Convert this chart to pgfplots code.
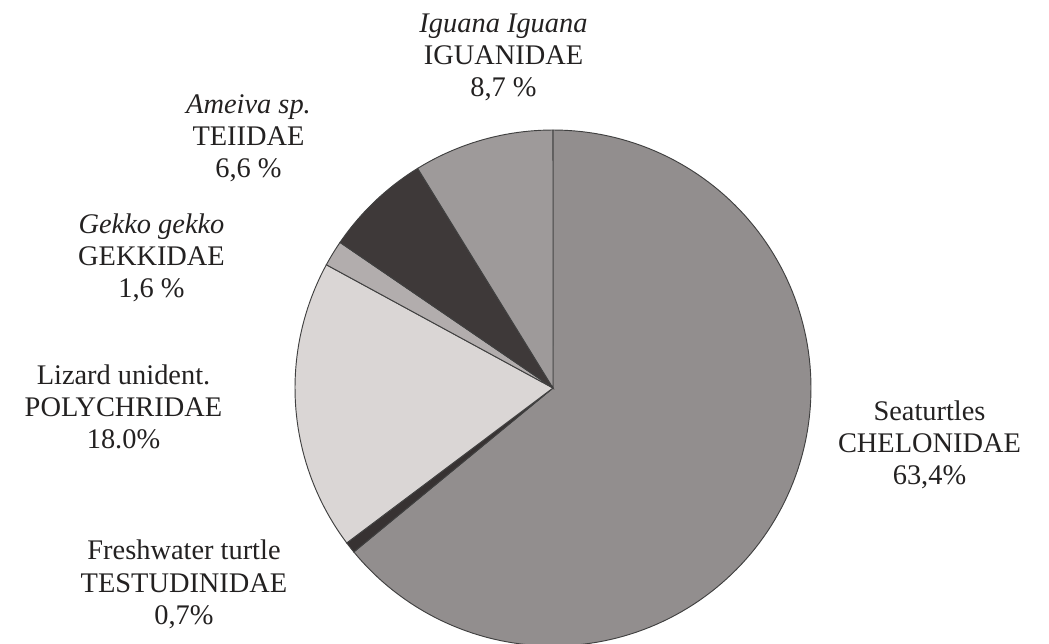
\documentclass[border=0pt]{standalone}
\usepackage{fontspec}
\setmainfont{Liberation Serif}
\usepackage{pgfplots}
\usepackage{pgfplotstable}
\pgfplotsset{compat=1.18}
\definecolor{cSea}{RGB}{146,142,142}
\definecolor{cIgu}{RGB}{158,154,154}
\definecolor{cTei}{RGB}{62,57,57}
\definecolor{cGek}{RGB}{178,173,173}
\definecolor{cPoly}{RGB}{218,214,213}
\definecolor{cFresh}{RGB}{55,50,50}
\definecolor{txt}{RGB}{35,33,33}
\tikzset{lab/.style={anchor=base, inner sep=0pt, text=txt, font=\fontsize{21.3}{25}\selectfont}}
\pgfplotstableread{
name pct
CHELONIDAE 63.4
TESTUDINIDAE 0.7
POLYCHRIDAE 18.0
GEKKIDAE 1.6
TEIIDAE 6.6
IGUANIDAE 8.7
}\piedata
\begin{document}
\begin{tikzpicture}
\pgfplotstablegetelem{0}{pct}\of\piedata \let\pA\pgfplotsretval
\pgfplotstablegetelem{1}{pct}\of\piedata \let\pB\pgfplotsretval
\pgfplotstablegetelem{2}{pct}\of\piedata \let\pC\pgfplotsretval
\pgfplotstablegetelem{3}{pct}\of\piedata \let\pD\pgfplotsretval
\pgfplotstablegetelem{4}{pct}\of\piedata \let\pE\pgfplotsretval
\pgfplotstablegetelem{5}{pct}\of\piedata \let\pF\pgfplotsretval
\pgfmathsetmacro\tot{\pA+\pB+\pC+\pD+\pE+\pF}
\pgfmathsetmacro\kA{90-\pA/\tot*360}
\pgfmathsetmacro\kB{\kA-\pB/\tot*360}
\pgfmathsetmacro\kC{\kB-\pC/\tot*360}
\pgfmathsetmacro\kD{\kC-\pD/\tot*360}
\pgfmathsetmacro\kE{\kD-\pE/\tot*360}
\pgfmathsetmacro\kF{\kE-\pF/\tot*360}
\begin{axis}[
  name=pie,
  scale only axis,
  width=786.75pt, height=482.25pt,
  xmin=-553, xmax=496, ymin=-255, ymax=388,
  hide axis,
  clip=true,
]
\addplot[fill=cSea, draw=black!75, line width=0.7pt, data cs=polar, domain=\kA:90, samples=150] {258} -- (axis cs:0,0) -- cycle;
\addplot[fill=cFresh, draw=black!75, line width=0.7pt, data cs=polar, domain=\kB:\kA, samples=5] {258} -- (axis cs:0,0) -- cycle;
\addplot[fill=cPoly, draw=black!75, line width=0.7pt, data cs=polar, domain=\kC:\kB, samples=50] {258} -- (axis cs:0,0) -- cycle;
\addplot[fill=cGek, draw=black!75, line width=0.7pt, data cs=polar, domain=\kD:\kC, samples=8] {258} -- (axis cs:0,0) -- cycle;
\addplot[fill=cTei, draw=black!75, line width=0.7pt, data cs=polar, domain=\kE:\kD, samples=20] {258} -- (axis cs:0,0) -- cycle;
\addplot[fill=cIgu, draw=black!75, line width=0.7pt, data cs=polar, domain=\kF:\kE, samples=25] {258} -- (axis cs:0,0) -- cycle;

\node[lab] at (axis cs:-49.5,355) {\itshape Iguana Iguana};
\node[lab] at (axis cs:-49.5,323) {IGUANIDAE};
\node[lab] at (axis cs:-49.5,291) {8,7 \%};

\node[lab] at (axis cs:-304.5,274) {\itshape Ameiva sp.};
\node[lab] at (axis cs:-304.5,242) {TEIIDAE};
\node[lab] at (axis cs:-304.5,210) {6,6 \%};

\node[lab] at (axis cs:-401.5,154) {\itshape Gekko gekko};
\node[lab] at (axis cs:-401.5,122) {GEKKIDAE};
\node[lab] at (axis cs:-401.5,90) {1,6 \%};

\node[lab] at (axis cs:-429.5,4) {Lizard unident.};
\node[lab] at (axis cs:-429.5,-28) {POLYCHRIDAE};
\node[lab] at (axis cs:-429.5,-60) {18.0\%};

\node[lab] at (axis cs:-369,-171) {Freshwater turtle};
\node[lab] at (axis cs:-369,-204) {TESTUDINIDAE};
\node[lab] at (axis cs:-369,-236) {0,7\%};

\node[lab] at (axis cs:376.5,-32) {Seaturtles};
\node[lab] at (axis cs:376.5,-64) {CHELONIDAE};
\node[lab] at (axis cs:376.5,-96) {63,4\%};
\end{axis}
\pgfresetboundingbox
\useasboundingbox (pie.south west) rectangle (pie.north east);
\end{tikzpicture}
\end{document}
